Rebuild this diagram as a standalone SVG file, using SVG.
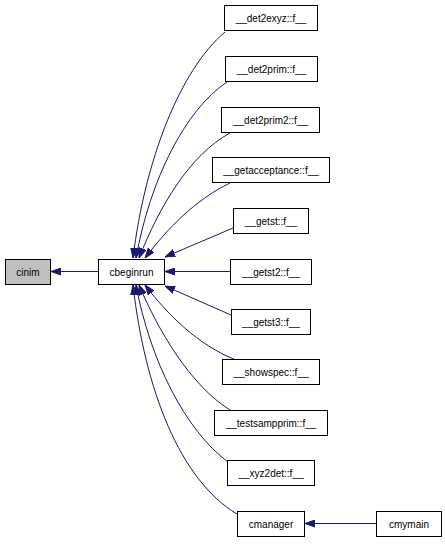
<svg xmlns="http://www.w3.org/2000/svg" width="445" height="544" viewBox="0 0 445 544">
<defs>
<style>
.node rect{fill:#ffffff;stroke:#000000;stroke-width:1}
.node.hl rect{fill:#bfbfbf}
.node text{font-family:"Liberation Sans",Arial,sans-serif;font-size:10px;fill:#000000;text-anchor:middle}
.edge{fill:none;stroke:#191970;stroke-width:1}
</style>
<marker id="arr" viewBox="0 -4 10 8" refX="10" refY="0" markerWidth="10" markerHeight="8" markerUnits="userSpaceOnUse" orient="auto">
<path d="M0,-3.5 L10,0 L0,3.5 z" fill="#191970" stroke="#191970"/>
</marker>
</defs>
<rect width="445" height="544" fill="#ffffff"/>
<g id="connectors">
<path class="edge" marker-end="url(#arr)" d="M98,271.5 L51,271.5"/>
<path class="edge" marker-end="url(#arr)" d="M225,32 C180,70 145,160 133,258"/>
<path class="edge" marker-end="url(#arr)" d="M227,82 C185,110 150,180 136,258"/>
<path class="edge" marker-end="url(#arr)" d="M230,133 C190,155 160,205 139,258"/>
<path class="edge" marker-end="url(#arr)" d="M230,183 C195,200 168,228 145,258"/>
<path class="edge" marker-end="url(#arr)" d="M233,228 L165,257"/>
<path class="edge" marker-end="url(#arr)" d="M230,271.5 L165,271.5"/>
<path class="edge" marker-end="url(#arr)" d="M231,315 L165,286"/>
<path class="edge" marker-end="url(#arr)" d="M236,360 C198,345 168,315 145,285"/>
<path class="edge" marker-end="url(#arr)" d="M230,410 C190,385 158,330 139,285"/>
<path class="edge" marker-end="url(#arr)" d="M228,462 C185,430 150,360 136,285"/>
<path class="edge" marker-end="url(#arr)" d="M237,514 C180,480 145,390 133,285"/>
<path class="edge" marker-end="url(#arr)" d="M376,523.5 L305,523.5"/>
</g>
<g id="cinim" class="node hl"><rect x="5.5" y="259.5" width="45" height="25"/><text x="28" y="275.5">cinim</text></g>
<g id="cbeginrun" class="node"><rect x="98.5" y="259.5" width="66" height="25"/><text x="131.5" y="275.5">cbeginrun</text></g>
<g id="det2exyz" class="node"><rect x="224.5" y="5.5" width="93" height="25"/><text x="271" y="21.5">__det2exyz::f__</text></g>
<g id="det2prim" class="node"><rect x="225.5" y="56.5" width="92" height="25"/><text x="271.5" y="72.5">__det2prim::f__</text></g>
<g id="det2prim2" class="node"><rect x="221.5" y="107.5" width="98" height="25"/><text x="270.5" y="123.5">__det2prim2::f__</text></g>
<g id="getacceptance" class="node"><rect x="212.5" y="157.5" width="117" height="25"/><text x="271" y="173.5">__getacceptance::f__</text></g>
<g id="getst" class="node"><rect x="233.5" y="208.5" width="75" height="25"/><text x="271" y="224.5">__getst::f__</text></g>
<g id="getst2" class="node"><rect x="230.5" y="259.5" width="81" height="25"/><text x="271" y="275.5">__getst2::f__</text></g>
<g id="getst3" class="node"><rect x="231.5" y="309.5" width="79" height="25"/><text x="271" y="325.5">__getst3::f__</text></g>
<g id="showspec" class="node"><rect x="222.5" y="359.5" width="97" height="25"/><text x="271" y="375.5">__showspec::f__</text></g>
<g id="testsampprim" class="node"><rect x="214.5" y="410.5" width="113" height="25"/><text x="271" y="426.5">__testsampprim::f__</text></g>
<g id="xyz2det" class="node"><rect x="227.5" y="460.5" width="87" height="25"/><text x="271" y="476.5">__xyz2det::f__</text></g>
<g id="cmanager" class="node"><rect x="237.5" y="511.5" width="67" height="25"/><text x="271" y="527.5">cmanager</text></g>
<g id="cmymain" class="node"><rect x="376.5" y="511.5" width="65" height="25"/><text x="409" y="527.5">cmymain</text></g>
</svg>
